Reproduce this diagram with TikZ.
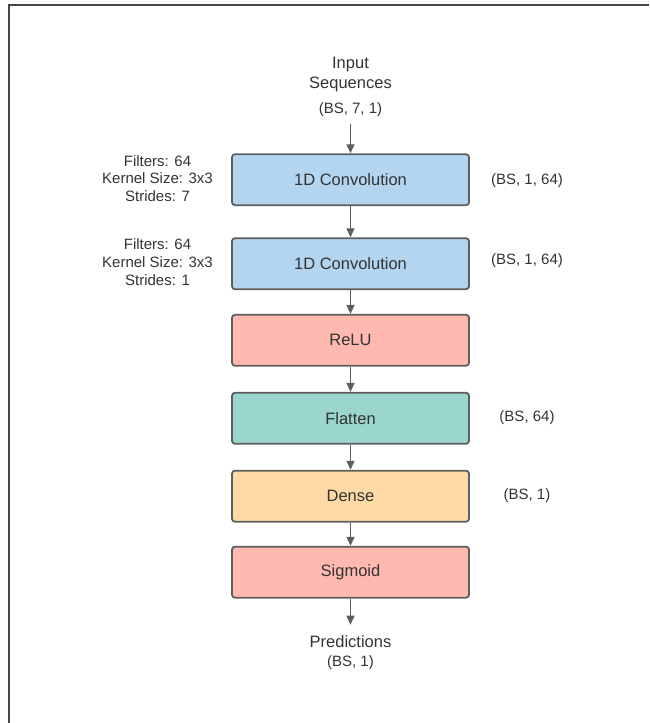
\documentclass[tikz,border=0pt]{standalone}
\usepackage{fontspec}
\setmainfont{Liberation Sans}
\usetikzlibrary{arrows.meta}

\definecolor{inkgray}{RGB}{51,51,51}
\definecolor{edgegray}{RGB}{94,94,94}
\definecolor{framegray}{RGB}{70,70,70}
\definecolor{convblue}{RGB}{180,213,239}
\definecolor{actpink}{RGB}{255,185,177}
\definecolor{flatteal}{RGB}{154,214,203}
\definecolor{denseorange}{RGB}{255,218,166}

\begin{document}
\begin{tikzpicture}[x=1pt, y=1pt, every node/.style={inner sep=0pt, text=inkgray},
  flow/.style={draw=edgegray, line width=1.3pt, -{Triangle[length=9pt, width=8pt]}},
  layer/.style={rectangle, rounded corners=3pt, draw=edgegray, line width=1.8pt,
    minimum width=237pt, minimum height=51pt, font=\fontsize{16.5}{20}\selectfont}]
\useasboundingbox (0,0) rectangle (649,723);
\draw[framegray, line width=1.8pt] (9,0) -- (9,718) -- (649,718);

\coordinate (IN) at (350.5, 648);
\coordinate (INS) at (350.5, 613);

\coordinate (L1) at (350.5, 543.3);
\coordinate (L2) at (350.5, 459.3);
\coordinate (L3) at (350.5, 382.7);
\coordinate (L4) at (350.5, 304.7);
\coordinate (L5) at (350.5, 226.8);
\coordinate (L6) at (350.5, 150.8);

\coordinate (OUT) at (350.5, 81);
\coordinate (OUTS) at (350.5, 60);

% input and output text
\node[align=center, font=\fontsize{16.5}{20}\selectfont] (input) at (IN) {Input\\Sequences};
\node[font=\fontsize{15}{18}\selectfont] (inshape) at (INS) {(BS, 7, 1)};
\node[font=\fontsize{16.5}{20}\selectfont] (output) at (OUT) {Predictions};
\node[font=\fontsize{15}{18}\selectfont] (outshape) at (OUTS) {(BS, 1)};

% layers
\node[layer, fill=convblue] (conv1) at (L1) {1D Convolution};
\node[layer, fill=convblue] (conv2) at (L2) {1D Convolution};
\node[layer, fill=actpink] (relu) at (L3) {ReLU};
\node[layer, fill=flatteal] (flatten) at (L4) {Flatten};
\node[layer, fill=denseorange] (dense) at (L5) {Dense};
\node[layer, fill=actpink] (sigmoid) at (L6) {Sigmoid};

% hyperparameters and output shapes
\begin{scope}[every node/.style={inner sep=0pt, text=inkgray, align=center, font=\fontsize{15}{17.8}\selectfont}]
\node (hyp1) at (157.5, 544.5) {Filters: 64\\Kernel Size: 3x3\\Strides: 7};
\node (hyp2) at (157.5, 461) {Filters: 64\\Kernel Size: 3x3\\Strides: 1};
\node (shape1) at (527, 542) {(BS, 1, 64)};
\node (shape2) at (527, 462) {(BS, 1, 64)};
\node (shape4) at (527, 305.5) {(BS, 64)};
\node (shape5) at (527, 227) {(BS, 1)};
\end{scope}

\draw[flow, shorten <=7pt] (inshape) -- (conv1);
\draw[flow] (conv1) -- (conv2);
\draw[flow] (conv2) -- (relu);
\draw[flow] (relu) -- (flatten);
\draw[flow] (flatten) -- (dense);
\draw[flow] (dense) -- (sigmoid);
\draw[flow, shorten >=11pt] (sigmoid) -- (output);

\end{tikzpicture}
\end{document}
